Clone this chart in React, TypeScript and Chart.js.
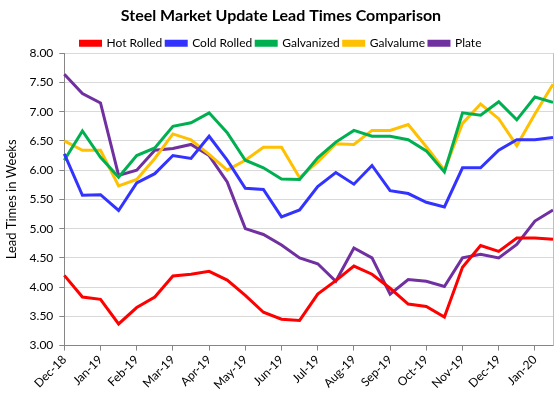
import React, { useEffect, useRef } from "react";
import { Chart, registerables } from "chart.js";

Chart.register(...registerables);

const monthLabels = [
  "Dec-18", "Jan-19", "Feb-19", "Mar-19", "Apr-19", "May-19", "Jun-19",
  "Jul-19", "Aug-19", "Sep-19", "Oct-19", "Nov-19", "Dec-19", "Jan-20",
];
// two readings per month: 1st and mid-month
const categories: string[] = monthLabels.flatMap((m) => [m, m + " (mid)"]);

const hotRolled = [4.20, 3.83, 3.79, 3.37, 3.65, 3.83, 4.19, 4.22, 4.27, 4.12, 3.86, 3.57, 3.45, 3.43, 3.88, 4.11, 4.36, 4.22, 3.98, 3.71, 3.67, 3.49, 4.34, 4.71, 4.61, 4.84, 4.84, 4.82];
const coldRolled = [6.28, 5.57, 5.58, 5.31, 5.78, 5.94, 6.25, 6.20, 6.58, 6.17, 5.69, 5.67, 5.20, 5.32, 5.72, 5.96, 5.76, 6.08, 5.65, 5.60, 5.45, 5.37, 6.04, 6.04, 6.34, 6.52, 6.52, 6.56];
const galvanized = [6.17, 6.67, 6.22, 5.88, 6.25, 6.38, 6.75, 6.81, 6.98, 6.64, 6.17, 6.04, 5.85, 5.84, 6.21, 6.48, 6.68, 6.58, 6.58, 6.52, 6.33, 5.97, 6.98, 6.94, 7.17, 6.86, 7.25, 7.16];
const galvalume = [6.50, 6.34, 6.34, 5.73, 5.84, 6.20, 6.62, 6.52, 6.27, 6.00, 6.17, 6.39, 6.39, 5.87, 6.14, 6.45, 6.44, 6.68, 6.68, 6.78, 6.40, 6.00, 6.80, 7.13, 6.88, 6.42, 6.96, 7.47];
const plate = [7.64, 7.31, 7.15, 5.91, 6.00, 6.34, 6.37, 6.44, 6.25, 5.80, 5.00, 4.90, 4.72, 4.50, 4.40, 4.10, 4.67, 4.50, 3.88, 4.13, 4.10, 4.01, 4.50, 4.56, 4.50, 4.73, 5.13, 5.32];

const yTicks = { min: 3, max: 8, step: 0.5 };

const seriesNames = ["Hot Rolled", "Cold Rolled", "Galvanized", "Galvalume", "Plate"];
const seriesColors = ["#FF0000", "#3333FF", "#00B050", "#FFC000", "#7030A0"];
const seriesData = [hotRolled, coldRolled, galvanized, galvalume, plate];

const FONT = "Lato, 'Liberation Sans', sans-serif";

const rightBorder = {
  id: "rightBorder",
  afterDraw(chart: any) {
    const { ctx, chartArea } = chart;
    ctx.save();
    ctx.strokeStyle = "#BFBFBF";
    ctx.lineWidth = 1;
    ctx.beginPath();
    ctx.moveTo(Math.round(chartArea.right) + 0.5, chartArea.top);
    ctx.lineTo(Math.round(chartArea.right) + 0.5, chartArea.bottom);
    ctx.stroke();
    ctx.restore();
  },
};

export default function App() {
  const ref = useRef<HTMLCanvasElement | null>(null);

  useEffect(() => {
    document.body.style.margin = "0";
    if (!ref.current) return;
    const chart = new Chart(ref.current, {
      type: "line",
      data: {
        labels: categories,
        datasets: seriesData.map((d, i) => ({
          label: seriesNames[i],
          data: d,
          borderColor: seriesColors[i],
          backgroundColor: seriesColors[i],
          borderWidth: 3,
          pointRadius: 0,
          tension: 0,
          fill: false,
        })),
      },
      plugins: [rightBorder],
      options: {
        animation: false,
        responsive: false,
        maintainAspectRatio: false,
        layout: { padding: { left: 2, right: 0, top: 4, bottom: 4 } },
        plugins: {
          title: {
            display: true,
            text: "Steel Market Update Lead Times Comparison",
            color: "#000000",
            font: { family: FONT, size: 16, weight: "bold" },
            padding: { top: 2, bottom: 8 },
          },
          legend: {
            display: true,
            position: "top",
            maxHeight: 20,
            labels: {
              boxWidth: 20,
              boxHeight: 4,
              padding: 4,
              color: "#000000",
              font: { family: FONT, size: 12 },
            },
          },
          tooltip: { enabled: false },
        },
        scales: {
          x: {
            type: "category",
            offset: false,
            afterFit: (axis: any) => {
              axis.paddingRight = 7;
            },
            grid: {
              display: true,
              drawOnChartArea: false,
              drawTicks: true,
              tickLength: 5,
              tickColor: (ctx: any) => (ctx.index % 2 === 0 ? "#868686" : "rgba(0,0,0,0)"),
            },
            border: { display: true, color: "#868686", width: 1 },
            ticks: {
              autoSkip: false,
              minRotation: 45,
              maxRotation: 45,
              color: "#000000",
              padding: 2,
              font: { family: FONT, size: 12 },
              callback: (_v: any, i: number) => (i % 2 === 0 ? monthLabels[i / 2] : ""),
            },
          },
          y: {
            min: yTicks.min,
            max: yTicks.max,
            grid: {
              color: "#D9D9D9",
              drawTicks: true,
              tickLength: 5,
              tickColor: "#868686",
            },
            border: { display: true, color: "#868686", width: 1 },
            ticks: {
              stepSize: yTicks.step,
              color: "#000000",
              padding: 6,
              font: { family: FONT, size: 12 },
              callback: (v: any) => Number(v).toFixed(2),
            },
            title: {
              display: true,
              text: "Lead Times in Weeks",
              color: "#000000",
              font: { family: FONT, size: 13 },
              padding: { top: 2, bottom: 4 },
            },
          },
        },
      },
    });
    return () => chart.destroy();
  }, []);

  return (
    <div style={{ width: 560, height: 398 }}>
      <canvas ref={ref} width={560} height={398} />
    </div>
  );
}
